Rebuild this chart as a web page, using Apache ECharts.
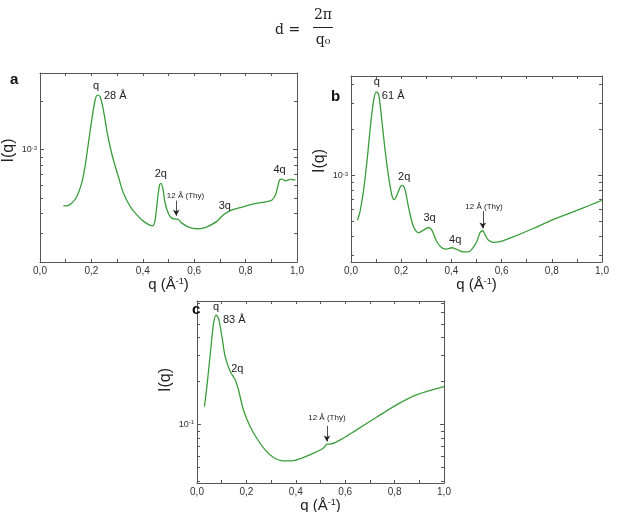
<!DOCTYPE html>
<html>
<head>
<meta charset="utf-8">
<script src="https://cdn.jsdelivr.net/npm/echarts@6/dist/echarts.min.js"></script>
<style>
html, body { margin: 0; padding: 0; background: #fff; }
#chart { width: 618px; height: 512px; }
</style>
</head>
<body>
<div id="chart"></div>
<script>
// panel a
var qA = [0.091, 0.104, 0.123, 0.143, 0.162, 0.175, 0.188, 0.201, 0.214, 0.223, 0.234, 0.247, 0.260, 0.273, 0.286, 0.305, 0.325, 0.351, 0.377, 0.403, 0.429, 0.439, 0.448, 0.457, 0.465, 0.471, 0.478, 0.487, 0.500, 0.513, 0.526, 0.535, 0.552, 0.578, 0.610, 0.636, 0.662, 0.688, 0.714, 0.740, 0.779, 0.831, 0.883, 0.903, 0.916, 0.925, 0.932, 0.941, 0.955, 0.974, 0.994];
var iA = [4.49e-4, 4.47e-4, 4.64e-4, 5.10e-4, 6.17e-4, 7.82e-4, 1.089e-3, 1.517e-3, 2.016e-3, 2.185e-3, 2.134e-3, 1.749e-3, 1.316e-3, 1.039e-3, 8.59e-4, 6.78e-4, 5.35e-4, 4.43e-4, 3.93e-4, 3.58e-4, 3.38e-4, 3.36e-4, 3.66e-4, 4.87e-4, 6.02e-4, 6.17e-4, 5.74e-4, 4.64e-4, 3.99e-4, 3.75e-4, 3.70e-4, 3.70e-4, 3.49e-4, 3.30e-4, 3.22e-4, 3.25e-4, 3.38e-4, 3.58e-4, 3.93e-4, 4.18e-4, 4.36e-4, 4.60e-4, 4.75e-4, 4.87e-4, 5.22e-4, 5.88e-4, 6.46e-4, 6.56e-4, 6.40e-4, 6.53e-4, 6.46e-4];
// panel b
var qB = [0.026, 0.037, 0.050, 0.064, 0.077, 0.090, 0.101, 0.110, 0.123, 0.136, 0.150, 0.163, 0.172, 0.185, 0.196, 0.205, 0.216, 0.229, 0.249, 0.269, 0.289, 0.309, 0.322, 0.342, 0.362, 0.381, 0.401, 0.421, 0.448, 0.468, 0.481, 0.501, 0.514, 0.525, 0.535, 0.547, 0.567, 0.593, 0.646, 0.726, 0.805, 0.885, 0.951, 1.0];
var iB = [5.08e-4, 5.90e-4, 7.98e-4, 1.253e-3, 2.069e-3, 3.093e-3, 3.540e-3, 3.418e-3, 2.288e-3, 1.457e-3, 9.75e-4, 7.40e-4, 6.93e-4, 7.59e-4, 8.39e-4, 8.60e-4, 7.98e-4, 6.21e-4, 4.60e-4, 4.20e-4, 4.37e-4, 4.55e-4, 4.37e-4, 3.67e-4, 3.35e-4, 3.28e-4, 3.35e-4, 3.27e-4, 3.15e-4, 3.15e-4, 3.27e-4, 3.67e-4, 4.20e-4, 4.33e-4, 4.05e-4, 3.76e-4, 3.63e-4, 3.67e-4, 3.95e-4, 4.48e-4, 5.13e-4, 5.76e-4, 6.37e-4, 6.87e-4];
// panel c
var qC = [0.030, 0.040, 0.054, 0.067, 0.077, 0.087, 0.101, 0.114, 0.135, 0.155, 0.168, 0.188, 0.215, 0.242, 0.276, 0.310, 0.350, 0.390, 0.431, 0.471, 0.505, 0.518, 0.525, 0.545, 0.592, 0.646, 0.727, 0.808, 0.888, 1.0];
var iC = [0.1327, 0.1826, 0.3112, 0.5028, 0.5743, 0.5446, 0.4063, 0.2951, 0.2321, 0.2032, 0.1731, 0.1257, 0.0963, 0.0799, 0.0663, 0.0587, 0.0556, 0.0559, 0.0587, 0.0629, 0.0670, 0.0700, 0.0726, 0.0730, 0.0799, 0.0913, 0.1118, 0.1362, 0.1598, 0.1826];

// y tick label shown on each panel (decade) and axis ranges
var yMarks = [1e-3, 1e-3, 1e-1];
var yMarkExp = ['-3', '-3', '-1'];
var yRange = [[2e-4, 3e-3], [2.7e-4, 4.5e-3], [0.039, 0.72]];

// peak labels [text, q, I]
var peaksA = [['q', 0.218, 2.49e-3], ['2q', 0.470, 7.01e-4], ['3q', 0.719, 4.47e-4], ['4q', 0.932, 7.45e-4]];
var peaksB = [['q', 0.103, 4.11e-3], ['2q', 0.212, 9.75e-4], ['3q', 0.313, 5.26e-4], ['4q', 0.415, 3.76e-4]];
var peaksC = [['q', 0.077, 0.653], ['2q', 0.163, 0.242]];
var spacing = [['28 Å', 0.249, 2.16e-3], ['61 Å', 0.123, 3.33e-3], ['83 Å', 0.105, 0.531]];
var thyNote = [['12 Å (Thy)', 0.566, 5.15e-4], ['12 Å (Thy)', 0.530, 6.21e-4], ['12 Å (Thy)', 0.526, 0.110]];
// arrows [q, I from, I to]
var thyArrow = [[0.530, 4.82e-4, 3.88e-4], [0.525, 5.84e-4, 4.49e-4], [0.526, 0.0974, 0.0758]];

var green = '#3a9d3a';
var frame = '#555';
var sans = '"Liberation Sans", Arial, sans-serif';

function pairs(q, v) {
	return q.map(function (x, k) { return [x, v[k]]; });
}

var xAxis = [];
var yAxis = [];
var nameShift = [34, 16, 24];
for (var g = 0; g < 3; g++) {
	var xb = {
		type: 'value', gridIndex: g, min: 0, max: 1, interval: 0.2,
		axisLine: { show: true, onZero: false, lineStyle: { color: frame, width: 1 } },
		axisTick: { show: true, inside: true, length: 3, lineStyle: { color: frame } },
		minorTick: { show: true, splitNumber: 2, length: 3, lineStyle: { color: frame } },
		splitLine: { show: false }, minorSplitLine: { show: false }
	};
	xAxis.push(Object.assign({}, xb, {
		position: 'bottom',
		name: 'q (Å{s|-1})', nameLocation: 'middle', nameGap: 11,
		nameTextStyle: { fontSize: 15, color: '#222', fontFamily: sans, rich: { s: { fontSize: 9, color: '#222', fontFamily: sans, verticalAlign: 'top' } } },
		axisLabel: { fontSize: 10, color: '#333', fontFamily: sans, margin: 4,
			formatter: function (v) { return v.toFixed(1).replace('.', ','); } }
	}));
	xAxis.push(Object.assign({}, xb, { position: 'top', axisLabel: { show: false } }));

	var yb = {
		type: 'log', logBase: 10, gridIndex: g, min: yRange[g][0], max: yRange[g][1],
		axisLine: { show: true, onZero: false, lineStyle: { color: frame, width: 1 } },
		axisTick: { show: true, inside: true, length: 4, lineStyle: { color: frame } },
		minorTick: { show: true, splitNumber: 9, length: 3, lineStyle: { color: frame } },
		splitLine: { show: false }, minorSplitLine: { show: false }
	};
	(function (m, e) {
		yAxis.push(Object.assign({}, yb, {
			position: 'left',
			name: 'I(q)', nameLocation: 'middle', nameGap: 23,
			nameTextStyle: { fontSize: 16, color: '#222', fontFamily: sans, padding: [0, 0, 0, nameShift[g]] },
			axisLabel: { margin: 3, showMinLabel: false, showMaxLabel: false,
				formatter: function (v) { return Math.abs(v / m - 1) < 1e-6 ? '{b|10}{s|' + e + '}' : ''; },
				rich: { b: { fontSize: 9, color: '#333', fontFamily: sans }, s: { fontSize: 6, color: '#333', fontFamily: sans, verticalAlign: 'top' } } }
		}));
	})(yMarks[g], yMarkExp[g]);
	yAxis.push(Object.assign({}, yb, { position: 'right', axisLabel: { show: false } }));
}

var peaks = [peaksA, peaksB, peaksC];
var curves = [pairs(qA, iA), pairs(qB, iB), pairs(qC, iC)];
var series = [];
for (var s = 0; s < 3; s++) {
	var marks = peaks[s].map(function (p) {
		return { coord: [p[1], p[2]], label: { formatter: p[0], fontSize: 11, align: 'center' } };
	});
	marks.push({ coord: [spacing[s][1], spacing[s][2]], label: { formatter: spacing[s][0], fontSize: 11, align: 'left' } });
	marks.push({ coord: [thyNote[s][1], thyNote[s][2]], label: { formatter: thyNote[s][0], fontSize: 8, align: 'center' } });
	series.push({
		type: 'line', xAxisIndex: 2 * s, yAxisIndex: 2 * s,
		data: curves[s], showSymbol: false, smooth: 0.3, silent: true,
		lineStyle: { color: green, width: 1.3 }, itemStyle: { color: green },
		markPoint: {
			symbol: 'circle', symbolSize: 0, silent: true,
			label: { show: true, position: 'inside', color: '#222', fontFamily: sans },
			data: marks
		},
		markLine: {
			silent: true, symbol: ['none', 'arrow'], symbolSize: [5, 6],
			lineStyle: { color: '#222', width: 0.8, type: 'solid' },
			label: { show: false },
			data: [[{ coord: [thyArrow[s][0], thyArrow[s][1]] }, { coord: [thyArrow[s][0], thyArrow[s][2]] }]]
		}
	});
}

var chart = echarts.init(document.getElementById('chart'));
chart.setOption({
	animation: false,
	backgroundColor: '#fff',
	title: [
		{ text: 'a', left: 5, top: 67, textStyle: { fontSize: 15, fontWeight: 'bold', color: '#111', fontFamily: sans } },
		{ text: 'b', left: 326, top: 84, textStyle: { fontSize: 15, fontWeight: 'bold', color: '#111', fontFamily: sans } },
		{ text: 'c', left: 187, top: 297, textStyle: { fontSize: 15, fontWeight: 'bold', color: '#111', fontFamily: sans } }
	],
	grid: [
		{ left: 40, top: 73, width: 257, height: 189, outerBoundsMode: 'none' },
		{ left: 351, top: 76, width: 251, height: 186, outerBoundsMode: 'none' },
		{ left: 197, top: 301, width: 247, height: 182, outerBoundsMode: 'none' }
	],
	graphic: [
		{ type: 'text', x: 275, y: 30, style: { text: 'd =', fontSize: 14, fontFamily: '"DejaVu Serif", serif', fill: '#222', verticalAlign: 'middle' } },
		{ type: 'text', x: 323, y: 15, style: { text: '2π', fontSize: 14, fontFamily: '"DejaVu Serif", serif', fill: '#222', align: 'center', verticalAlign: 'middle' } },
		{ type: 'line', shape: { x1: 313, y1: 27.5, x2: 333, y2: 27.5 }, style: { stroke: '#222', lineWidth: 1 } },
		{ type: 'text', x: 323, y: 40, style: { text: 'q₀', fontSize: 14, fontFamily: '"DejaVu Serif", serif', fill: '#222', align: 'center', verticalAlign: 'middle' } }
	],
	xAxis: xAxis,
	yAxis: yAxis,
	series: series
});
</script>
</body>
</html>
